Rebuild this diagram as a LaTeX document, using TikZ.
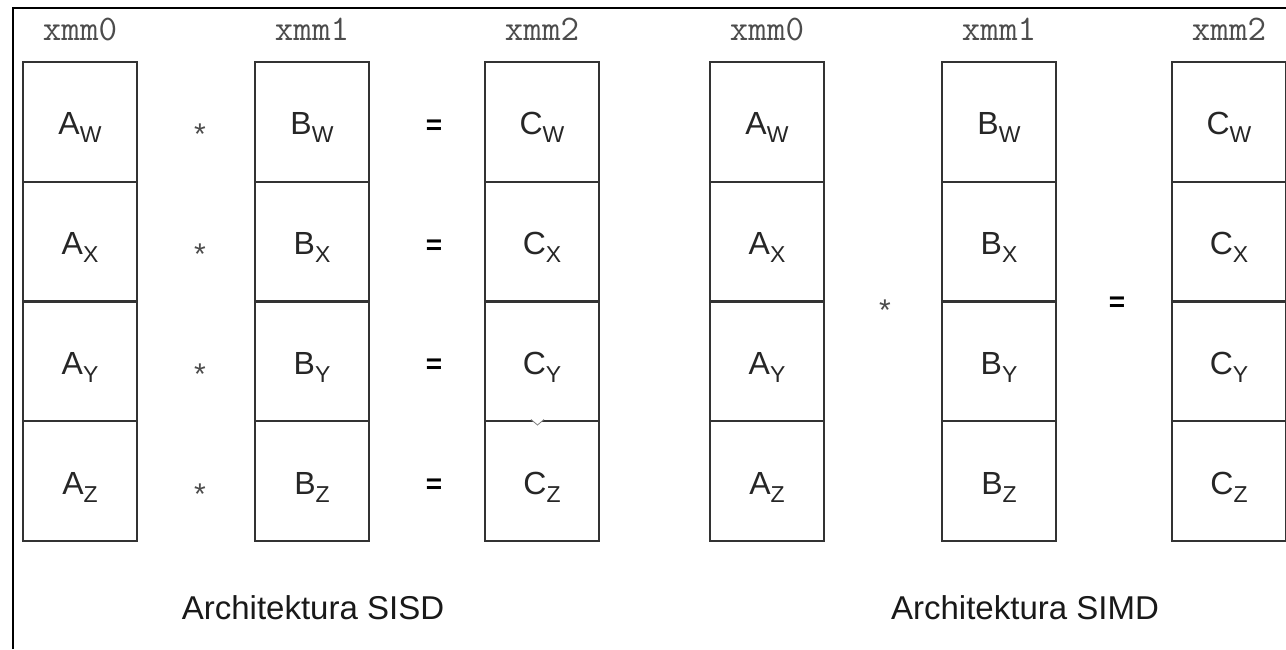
\documentclass[tikz,border=0pt]{standalone}
\usepackage{fontspec}
\setmainfont{Liberation Sans}
\newcommand\regsub[1]{\raisebox{-8pt}{\fontsize{23}{23}\selectfont #1}}
\begin{document}
\begin{tikzpicture}[x=1pt,y=-1pt,
  cell/.style={draw=black!80, line width=2.2pt, minimum width=114pt, minimum height=119.75pt,
    inner sep=0pt, outer sep=0pt, text height=30pt, text depth=4pt,
    font=\fontsize{32}{32}\selectfont, text=black!85},
  reglabel/.style={anchor=base, font=\ttfamily\fontsize{36}{36}\selectfont, text=black!70},
  times/.style={anchor=base, font=\fontsize{30}{30}\selectfont, text=black!70},
  eq/.style={anchor=base, font=\bfseries\fontsize{28}{28}\selectfont, text=black},
  archtitle/.style={anchor=base, font=\fontsize{33}{33}\selectfont, text=black!90},
  frameline/.style={line width=2pt, black}]
\fill[white] (0,0) rectangle (1286,649);
\useasboundingbox (0,0) rectangle (1286,649);
\draw[frameline] (13,649) -- (13,8) -- (1290,8);
\foreach \col/\x/\L/\R in {1/23/A/0, 2/255/B/1, 3/485/C/2, 4/710/A/0, 5/942/B/1, 6/1172/C/2} {
  \node[reglabel] (lab\col) at (\x+57, 40) {xmm\R};
  \foreach \r/\s in {1/W,2/X,3/Y,4/Z} {
    \node[cell] (c\col\r) at (\x+57, {62+(\r-0.5)*119.75}) {\L\regsub{\s}};
  }
}
% SISD operators
\foreach \r in {1,2,3,4} {
  \node[times] (mul\r) at (200, {62+(\r-0.5)*119.75+23}) {*};
  \node[eq] (eq\r) at (434, {62+(\r-0.5)*119.75+12.5}) {=};
}
% SIMD operators
\node[times] (mulS) at (885, 320) {*};
\node[eq] (eqS) at (1117, 311.5) {=};
% small notch
\draw[black!50, line width=0.8pt, fill=white] (531,419.5) -- (537.5,425) -- (544,419.5);
% titles
\node[archtitle] (tsisd) at (313, 619) {Architektura SISD};
\node[archtitle] (tsimd) at (1025, 619) {Architektura SIMD};
\end{tikzpicture}
\end{document}
